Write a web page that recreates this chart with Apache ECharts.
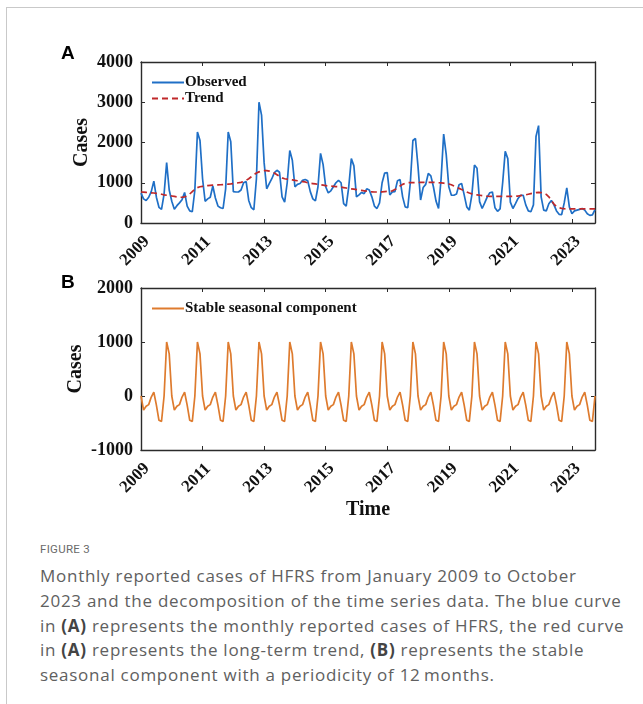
<!DOCTYPE html>
<html>
<head>
<meta charset="utf-8">
<title>HFRS monthly cases</title>
<script src="https://cdn.jsdelivr.net/npm/echarts@6/dist/echarts.min.js"></script>
<style>
  html, body { margin: 0; padding: 0; background: #fff; }
  #frame { position: absolute; left: 6px; top: 7px; width: 640px; height: 700px;
           border-top: 1px solid #c9c9c9; border-left: 1px solid #c9c9c9; }
  #chart { position: absolute; left: 0; top: 0; width: 643px; height: 530px; }
  #caption { position: absolute; left: 40px; top: 540px; width: 595px; color: #606060;
             font-family: "Open Sans", sans-serif; }
  #caption .fig { font-family: Roboto, sans-serif; font-size: 11.5px; letter-spacing: 0.3px;
                  color: #6a6a6a; line-height: 18px; }
  #caption .txt { font-size: 17px; line-height: 24.8px; letter-spacing: 0.73px; margin-top: 6px; }
  #caption b { font-weight: 700; color: #444; }
</style>
</head>
<body>
<div id="frame"></div>
<div id="chart"></div>
<div id="caption">
  <div class="fig">FIGURE 3</div>
  <div class="txt">Monthly reported cases of HFRS from January 2009 to October<br>2023 and the decomposition of the time series data. The blue curve<br>in <b>(A)</b> represents the monthly reported cases of HFRS, the red curve<br>in <b>(A)</b> represents the long-term trend, <b>(B)</b> represents the stable<br>seasonal component with a periodicity of 12&#8201;months.</div>
</div>
<script>
// tick labels
var yearTicks = ['2009', '2011', '2013', '2015', '2017', '2019', '2021', '2023'];
var yTicksA = [0, 1000, 2000, 3000, 4000];
var yTicksB = [-1000, 0, 1000, 2000];

// months Jan 2009 .. Oct 2023
var months = [];
for (var y = 2009; y <= 2023; y++) {
    for (var m = 1; m <= 12; m++) {
        if (y === 2023 && m > 10) break;
        months.push(y + '-' + (m < 10 ? '0' + m : m));
    }
}

// observed monthly cases, one row per year
var observed = [
    740, 600, 560, 640, 780, 1040, 640, 390, 340, 720, 1500, 820,        // 2009
    540, 340, 430, 500, 580, 760, 420, 300, 280, 820, 2260, 2050,        // 2010
    1100, 540, 600, 640, 920, 620, 420, 380, 360, 850, 2260, 2020,       // 2011
    780, 770, 770, 820, 1000, 1030, 560, 380, 330, 1100, 3000, 2680,     // 2012
    1500, 850, 980, 1100, 1250, 1310, 1260, 650, 520, 1000, 1800, 1560,  // 2013
    900, 960, 980, 1060, 1080, 1050, 780, 600, 550, 900, 1730, 1450,     // 2014
    900, 750, 800, 900, 1000, 1060, 1000, 480, 420, 900, 1600, 1420,     // 2015
    650, 700, 760, 730, 850, 820, 650, 420, 360, 500, 1000, 1240,        // 2016
    1250, 700, 770, 780, 1050, 1080, 650, 400, 380, 1000, 2050, 2100,    // 2017
    1400, 570, 880, 960, 1230, 1170, 900, 550, 360, 1100, 2210, 1700,    // 2018
    900, 690, 690, 720, 950, 980, 700, 400, 320, 700, 1440, 1360,        // 2019
    530, 360, 500, 650, 750, 770, 380, 290, 350, 1000, 1780, 1600,       // 2020
    520, 360, 480, 610, 690, 690, 450, 300, 280, 450, 2150, 2420,        // 2021
    650, 320, 300, 480, 560, 450, 300, 215, 210, 500, 875, 400,          // 2022
    230, 300, 320, 340, 360, 320, 230, 190, 200, 330                     // 2023
];

// long-term trend
var trend = [
    770, 765, 760, 755, 750, 745, 735, 725, 715, 700, 690, 680,
    670, 660, 650, 640, 640, 650, 670, 720, 780, 840, 880, 900,
    910, 920, 930, 935, 940, 940, 945, 950, 955, 960, 965, 970,
    980, 990, 1000, 1010, 1030, 1060, 1100, 1150, 1200, 1240, 1270, 1290,
    1300, 1300, 1290, 1270, 1240, 1200, 1160, 1120, 1100, 1090, 1080, 1070,
    1060, 1050, 1040, 1030, 1020, 1000, 990, 980, 970, 960, 950, 940,
    930, 920, 915, 910, 905, 900, 890, 880, 870, 860, 850, 840,
    830, 820, 810, 800, 790, 780, 775, 770, 770, 770, 775, 780,
    785, 790, 800, 830, 870, 920, 960, 990, 1000, 1005, 1005, 1005,
    1005, 1010, 1010, 1010, 1010, 1010, 1010, 1005, 1000, 995, 990, 980,
    970, 950, 920, 890, 860, 830, 800, 770, 745, 725, 710, 700,
    690, 680, 670, 665, 660, 660, 660, 660, 660, 660, 660, 660,
    660, 660, 665, 670, 680, 690, 700, 715, 730, 745, 755, 760,
    755, 740, 710, 650, 560, 470, 410, 380, 365, 355, 350, 350,
    350, 350, 350, 350, 350, 350, 350, 350, 350, 350
];

// stable seasonal component
var seasonal = [
    0, -260, -190, -160, -20, 70, -170, -450, -470, 0, 1000, 780,
    0, -260, -190, -160, -20, 70, -170, -450, -470, 0, 1000, 780,
    0, -260, -190, -160, -20, 70, -170, -450, -470, 0, 1000, 780,
    0, -260, -190, -160, -20, 70, -170, -450, -470, 0, 1000, 780,
    0, -260, -190, -160, -20, 70, -170, -450, -470, 0, 1000, 780,
    0, -260, -190, -160, -20, 70, -170, -450, -470, 0, 1000, 780,
    0, -260, -190, -160, -20, 70, -170, -450, -470, 0, 1000, 780,
    0, -260, -190, -160, -20, 70, -170, -450, -470, 0, 1000, 780,
    0, -260, -190, -160, -20, 70, -170, -450, -470, 0, 1000, 780,
    0, -260, -190, -160, -20, 70, -170, -450, -470, 0, 1000, 780,
    0, -260, -190, -160, -20, 70, -170, -450, -470, 0, 1000, 780,
    0, -260, -190, -160, -20, 70, -170, -450, -470, 0, 1000, 780,
    0, -260, -190, -160, -20, 70, -170, -450, -470, 0, 1000, 780,
    0, -260, -190, -160, -20, 70, -170, -450, -470, 0, 1000, 780,
    0, -260, -190, -160, -20, 70, -170, -450, -470, 0
];

var serif = '"Liberation Serif", "Times New Roman", serif';
var axisColor = '#2b2b2b';

function isYearTick(index, value) {
    return value.slice(5) === '01' && yearTicks.indexOf(value.slice(0, 4)) >= 0;
}

function xAxisPair(grid, showName) {
    return [{
        type: 'category', gridIndex: grid, data: months, boundaryGap: false, position: 'bottom',
        axisLine: { onZero: false, lineStyle: { color: axisColor, width: 1.4 } },
        axisTick: { inside: true, length: 4, interval: isYearTick, lineStyle: { color: axisColor } },
        axisLabel: {
            interval: isYearTick, rotate: 45, margin: 22, color: '#111',
            align: 'center', verticalAlign: 'middle', padding: [0, 17, 0, 0],
            fontFamily: serif, fontWeight: 'bold', fontSize: 17,
            formatter: function(v) { return v.slice(0, 4); }
        },
        name: showName ? 'Time' : '', nameLocation: 'middle', nameGap: 50, nameMoveOverlap: false,
        nameTextStyle: { fontFamily: serif, fontWeight: 'bold', fontSize: 20, color: '#111' },
        splitLine: { show: false }
    }, {
        type: 'category', gridIndex: grid, data: months, boundaryGap: false, position: 'top',
        axisLine: { onZero: false, lineStyle: { color: axisColor, width: 1.4 } },
        axisTick: { inside: true, length: 4, interval: isYearTick, lineStyle: { color: axisColor } },
        axisLabel: { show: false },
        splitLine: { show: false }
    }];
}

function yAxisPair(grid, ticks, gap) {
    var step = ticks[1] - ticks[0];
    var base = {
        type: 'value', gridIndex: grid,
        min: ticks[0], max: ticks[ticks.length - 1], interval: step,
        axisLine: { show: true, onZero: false, lineStyle: { color: axisColor, width: 1.4 } },
        axisTick: { show: true, inside: true, length: 4, lineStyle: { color: axisColor } },
        splitLine: { show: false }
    };
    var left = Object.assign({}, base, {
        position: 'left',
        axisLabel: {
            margin: 8, color: '#111', fontFamily: serif, fontWeight: 'bold', fontSize: 18,
            formatter: function(v) { return String(v); }
        },
        name: 'Cases', nameLocation: 'middle', nameGap: gap, nameRotate: 90, nameMoveOverlap: false,
        nameTextStyle: { fontFamily: serif, fontWeight: 'bold', fontSize: 20, color: '#111' }
    });
    var right = Object.assign({}, base, { position: 'right', axisLabel: { show: false } });
    return [left, right];
}

var chart = echarts.init(document.getElementById('chart'));

var legendText = { fontFamily: serif, fontWeight: 'bold', fontSize: 15, color: '#111', padding: [0, 0, 0, -4] };

var option = {
    animation: false,
    backgroundColor: 'transparent',
    grid: [
        { left: 141, top: 62, width: 454, height: 161 },
        { left: 141, top: 288, width: 454, height: 162 }
    ],
    xAxis: xAxisPair(0, false).concat(xAxisPair(1, true)),
    yAxis: yAxisPair(0, yTicksA, 49).concat(yAxisPair(1, yTicksB, 55)),
    legend: [{
        data: ['Observed', 'Trend'], orient: 'vertical', left: 146, top: 70,
        itemWidth: 32, itemHeight: 14, itemGap: 1,
        itemStyle: { opacity: 0 },
        textStyle: legendText
    }, {
        data: ['Stable seasonal component'], orient: 'vertical', left: 146, top: 296,
        itemWidth: 32, itemHeight: 14,
        itemStyle: { opacity: 0 },
        textStyle: legendText
    }],
    graphic: [
        { type: 'text', left: 61, top: 44, style: { text: 'A', font: 'bold 19px "Liberation Sans", Arial, sans-serif', fill: '#000' } },
        { type: 'text', left: 61, top: 273, style: { text: 'B', font: 'bold 19px "Liberation Sans", Arial, sans-serif', fill: '#000' } }
    ],
    series: [{
        name: 'Observed', type: 'line', xAxisIndex: 0, yAxisIndex: 0,
        data: observed, symbol: 'none', z: 2,
        lineStyle: { color: '#1f6fc6', width: 1.7 }, itemStyle: { color: '#1f6fc6' }
    }, {
        name: 'Trend', type: 'line', xAxisIndex: 0, yAxisIndex: 0,
        data: trend, symbol: 'none', z: 3,
        lineStyle: { color: '#c0282a', width: 1.7, type: [6, 4] }, itemStyle: { color: '#c0282a' }
    }, {
        name: 'Stable seasonal component', type: 'line', xAxisIndex: 2, yAxisIndex: 2,
        data: seasonal, symbol: 'none',
        lineStyle: { color: '#de7b2e', width: 1.7 }, itemStyle: { color: '#de7b2e' }
    }]
};

chart.setOption(option);
</script>
</body>
</html>
